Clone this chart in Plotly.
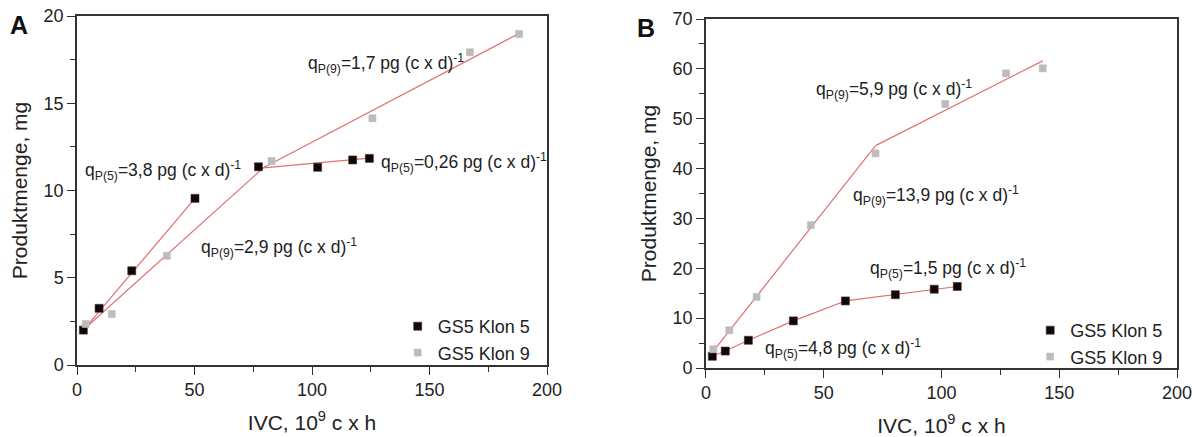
import plotly.graph_objects as go

# ---------------- data ----------------
# Panel A
a_k5_x = [2.7, 9.4, 23.3, 50.2, 77.2, 102.4, 117.3, 124.4]
a_k5_y = [2.0, 3.25, 5.4, 9.55, 11.36, 11.33, 11.75, 11.84]
a_k9_x = [3.7, 14.8, 38.2, 82.8, 125.7, 167.2, 188.1]
a_k9_y = [2.35, 2.92, 6.26, 11.69, 14.14, 17.92, 18.97]
# fitted segments panel A
a_fit_k5_1_x = [2.7, 50.2]
a_fit_k5_1_y = [2.0, 9.55]
a_fit_k5_2_x = [79.3, 124.4]
a_fit_k5_2_y = [11.3, 11.85]
a_fit_k9_1_x = [3.0, 79.3]
a_fit_k9_1_y = [2.05, 11.3]
a_fit_k9_2_x = [79.3, 188.1]
a_fit_k9_2_y = [11.3, 19.0]

# Panel B
b_k5_x = [2.7, 8.2, 18.0, 37.1, 59.2, 80.4, 96.9, 106.7]
b_k5_y = [2.35, 3.4, 5.56, 9.45, 13.45, 14.7, 15.8, 16.35]
b_k9_x = [3.1, 9.9, 21.5, 44.5, 72.0, 101.6, 127.4, 143.0]
b_k9_y = [3.76, 7.57, 14.26, 28.65, 43.05, 52.95, 59.1, 60.1]
# fitted segments panel B
b_fit_k5_1_x = [2.7, 8.2, 18.0, 37.1, 59.2]
b_fit_k5_1_y = [2.35, 3.4, 5.56, 9.45, 13.45]
b_fit_k5_2_x = [59.2, 80.4, 96.9, 106.7]
b_fit_k5_2_y = [13.45, 14.7, 15.8, 16.35]
b_fit_k9_1_x = [2.8, 72.0]
b_fit_k9_1_y = [3.2, 44.6]
b_fit_k9_2_x = [72.0, 143.0]
b_fit_k9_2_y = [44.6, 61.6]

series_names = ["GS5 Klon 5", "GS5 Klon 9"]

# annotation texts and anchor values
a_labels = ["q<sub>P(9)</sub>=1,7 pg (c x d)<sup>-1</sup>",
            "q<sub>P(5)</sub>=3,8 pg (c x d)<sup>-1</sup>",
            "q<sub>P(5)</sub>=0,26 pg (c x d)<sup>-1</sup>",
            "q<sub>P(9)</sub>=2,9 pg (c x d)<sup>-1</sup>"]
a_label_x = [97.4, 2.4, 128.5, 51.9]
a_label_y = [17.3, 11.17, 11.63, 6.76]
b_labels = ["q<sub>P(9)</sub>=5,9 pg (c x d)<sup>-1</sup>",
            "q<sub>P(9)</sub>=13,9 pg (c x d)<sup>-1</sup>",
            "q<sub>P(5)</sub>=1,5 pg (c x d)<sup>-1</sup>",
            "q<sub>P(5)</sub>=4,8 pg (c x d)<sup>-1</sup>"]
b_label_x = [46.0, 61.6, 68.9, 24.3]
b_label_y = [55.8, 34.7, 20.0, 3.96]

# ---------------- styling ----------------
FONT = "Liberation Sans, Arial, sans-serif"
RED = "#e07070"
BLACK = "#0a0a0a"
GRAY = "#bcbcbc"
AXC = "#333333"

fig = go.Figure()

def fit(x, y, xa, ya):
    fig.add_trace(go.Scatter(x=x, y=y, mode="lines", xaxis=xa, yaxis=ya,
                             line=dict(color=RED, width=1.2), showlegend=False,
                             hoverinfo="skip"))

for xs, ys in [(a_fit_k5_1_x, a_fit_k5_1_y), (a_fit_k5_2_x, a_fit_k5_2_y),
               (a_fit_k9_1_x, a_fit_k9_1_y), (a_fit_k9_2_x, a_fit_k9_2_y)]:
    fit(xs, ys, "x", "y")
for xs, ys in [(b_fit_k5_1_x, b_fit_k5_1_y), (b_fit_k5_2_x, b_fit_k5_2_y),
               (b_fit_k9_1_x, b_fit_k9_1_y), (b_fit_k9_2_x, b_fit_k9_2_y)]:
    fit(xs, ys, "x2", "y2")

def pts(x, y, xa, ya, name, color, size, legend, edge):
    fig.add_trace(go.Scatter(x=x, y=y, mode="markers", xaxis=xa, yaxis=ya, name=name,
                             legend=legend,
                             marker=dict(symbol="square", color=color, size=size,
                                         line=dict(color=edge, width=0.6))))

pts(a_k5_x, a_k5_y, "x", "y", series_names[0], BLACK, 8, "legend", "#5a2020")
pts(a_k9_x, a_k9_y, "x", "y", series_names[1], GRAY, 7, "legend", GRAY)
pts(b_k5_x, b_k5_y, "x2", "y2", series_names[0], BLACK, 8, "legend2", "#5a2020")
pts(b_k9_x, b_k9_y, "x2", "y2", series_names[1], GRAY, 7, "legend2", GRAY)

ax_common = dict(showline=True, linecolor=AXC, linewidth=1.5, mirror=True,
                 ticks="outside", ticklen=8, tickwidth=1.3, tickcolor=AXC,
                 showgrid=False, zeroline=False, automargin=False,
                 tickfont=dict(family=FONT, size=18, color="#222"),
                 title_font=dict(family=FONT, size=21, color="#222"))

xtitle = "IVC, 10<sup>9</sup> c x h"
ytitle = "Produktmenge, mg"

PLOT_TOP, PLOT_BOT = 16, 368
PH = PLOT_BOT - PLOT_TOP

fig.update_layout(
    width=1200, height=437,
    margin=dict(l=77, r=23, t=PLOT_TOP, b=437 - PLOT_BOT, autoexpand=False),
    plot_bgcolor="white", paper_bgcolor="white",
    font=dict(family=FONT, color="#222"),
    xaxis=dict(domain=[0, 0.4273], range=[0, 200], dtick=50, anchor="y",
               minor=dict(dtick=25, ticks="outside", ticklen=5, tickcolor=AXC),
               title=dict(text=xtitle, standoff=16), **ax_common),
    yaxis=dict(domain=[(PLOT_BOT - 365) / PH, 1.0], range=[0, 20], dtick=5, anchor="x",
               minor=dict(dtick=2.5, ticks="outside", ticklen=5, tickcolor=AXC),
               title=dict(text=ytitle, standoff=10), **ax_common),
    xaxis2=dict(domain=[0.5718, 1.0], range=[0, 200], dtick=50, anchor="y2",
                minor=dict(dtick=25, ticks="outside", ticklen=5, tickcolor=AXC),
                title=dict(text=xtitle, standoff=16), **ax_common),
    yaxis2=dict(domain=[0.0, 1 - 3 / PH], range=[0, 70], dtick=10, anchor="x2",
                minor=dict(dtick=5, ticks="outside", ticklen=5, tickcolor=AXC),
                title=dict(text=ytitle, standoff=10), **ax_common),
    legend=dict(x=0.417, y=(PLOT_BOT - 371) / PH, xanchor="right", yanchor="bottom",
                bgcolor="rgba(0,0,0,0)", font=dict(family=FONT, size=18, color="#222"),
                tracegroupgap=0, itemwidth=30),
    legend2=dict(x=0.992, y=(PLOT_BOT - 375) / PH, xanchor="right", yanchor="bottom",
                 bgcolor="rgba(0,0,0,0)", font=dict(family=FONT, size=18, color="#222"),
                 tracegroupgap=0, itemwidth=30),
)

for t, x, y in zip(a_labels, a_label_x, a_label_y):
    fig.add_annotation(x=x, y=y, xref="x", yref="y", text=t, showarrow=False,
                       xanchor="left", yanchor="middle",
                       font=dict(family=FONT, size=17.5, color="#222"))
for t, x, y in zip(b_labels, b_label_x, b_label_y):
    fig.add_annotation(x=x, y=y, xref="x2", yref="y2", text=t, showarrow=False,
                       xanchor="left", yanchor="middle",
                       font=dict(family=FONT, size=17.5, color="#222"))

for letter, px, py in [("A", 8, 9), ("B", 635, 12)]:
    fig.add_annotation(x=(px - 77) / 1100, y=(PLOT_BOT - py) / PH,
                       xref="paper", yref="paper",
                       text="<b>%s</b>" % letter, showarrow=False,
                       xanchor="left", yanchor="top",
                       font=dict(family=FONT, size=25, color="#111"))

fig.write_html("out.html")
